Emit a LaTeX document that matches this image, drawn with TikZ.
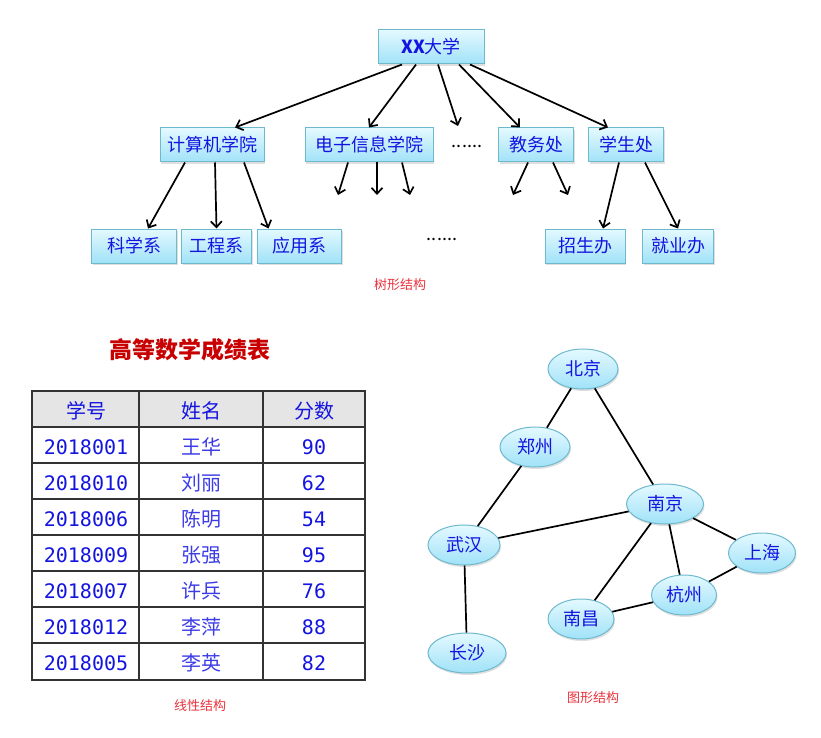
\documentclass[tikz,border=0pt]{standalone}
\usepackage{fontspec}
\setmainfont{Noto Sans CJK SC}
\newfontfamily\monofont{DejaVu Sans Mono}
\usetikzlibrary{arrows.meta,positioning,shapes.geometric,shadows}
\definecolor{boxline}{RGB}{110,185,205}
\definecolor{boxtop}{RGB}{228,249,255}
\definecolor{boxbot}{RGB}{160,226,248}
\definecolor{txtblue}{RGB}{20,20,225}
\definecolor{namblue}{RGB}{60,60,230}
\definecolor{capred}{RGB}{232,50,60}
\definecolor{titlered}{RGB}{200,0,0}
\tikzset{
  tbox/.style={draw=boxline, line width=1pt, top color=boxtop, bottom color=boxbot, minimum height=34pt,
    inner sep=2pt, text=txtblue, font=\fontsize{18}{18}\selectfont,
    drop shadow={opacity=0.25, shadow xshift=1pt, shadow yshift=-2pt}},
  city/.style={ellipse, draw=boxline, line width=1pt, top color=boxtop, bottom color=boxbot, minimum width=70pt,
    minimum height=40pt, inner sep=0pt, text=txtblue, font=\fontsize{18}{18}\selectfont,
    drop shadow={opacity=0.25, shadow xshift=1pt, shadow yshift=-2pt}},
  caption/.style={text=capred, font=\fontsize{13}{13}\selectfont},
  cell/.style={text=txtblue, yshift=-2pt, font=\fontsize{20}{20}\selectfont},
}
\begin{document}
\begin{tikzpicture}[x=1pt, y=-1pt, >={Straight Barb[length=6pt,width=11pt]}, line width=1.7pt]
  \useasboundingbox (0,0) rectangle (821,738);

  % tree
  \node[tbox, minimum width=106pt] (xx) at (431,47) {\textbf{XX}大学};
  \node[tbox, minimum width=104pt] (jsj) at (212,145) {计算机学院};
  \node[tbox, minimum width=128pt] (dz) at (369,145) {电子信息学院};
  \node[font=\fontsize{18}{18}\selectfont] (dots1) at (467,146) {......};
  \node[tbox, minimum width=75pt] (jw) at (536,145) {教务处};
  \node[tbox, minimum width=75pt] (xs) at (626,145) {学生处};
  \node[tbox, minimum width=85pt] (kxx) at (134,246) {科学系};
  \node[tbox, minimum width=70pt, right=4pt of kxx] (gcx) {工程系};
  \node[tbox, minimum width=84pt, right=5pt of gcx] (yyx) {应用系};
  \node[font=\fontsize{18}{18}\selectfont] (dots2) at (442,239) {......};
  \node[tbox, minimum width=80pt] (zsb) at (585,246) {招生办};
  \node[tbox, minimum width=71pt] (jyb) at (678,246) {就业办};
  \coordinate (dotA) at (458,126);
  \coordinate (dzA) at (338,195);
  \coordinate (dzB) at (377,195);
  \coordinate (dzC) at (410,195);
  \coordinate (jwA) at (513,195);
  \coordinate (jwB) at (568,195);

  \draw[->] ([xshift=-29pt]xx.south) -- ([xshift=23pt]jsj.north);
  \draw[->] ([xshift=-15pt]xx.south) -- (dz.north);
  \draw[->] ([xshift=7pt]xx.south) -- (dotA);
  \draw[->] ([xshift=28pt]xx.south) -- ([xshift=-16pt]jw.north);
  \draw[->] ([xshift=39pt]xx.south) -- ([xshift=-18pt]xs.north);
  \draw[->] ([xshift=-27pt]jsj.south) -- ([xshift=14pt]kxx.north);
  \draw[->] ([xshift=3pt]jsj.south) -- (gcx.north);
  \draw[->] ([xshift=32pt]jsj.south) -- ([xshift=-31pt]yyx.north);
  \draw[->] ([xshift=-21pt]dz.south) -- (dzA);
  \draw[->] ([xshift=8pt]dz.south) -- (dzB);
  \draw[->] ([xshift=33pt]dz.south) -- (dzC);
  \draw[->] ([xshift=-8pt]jw.south) -- (jwA);
  \draw[->] ([xshift=17pt]jw.south) -- (jwB);
  \draw[->] ([xshift=-7pt]xs.south) -- ([xshift=18pt]zsb.north);
  \draw[->] ([xshift=19pt]xs.south) -- (jyb.north);
  \node[caption] (cap1) at (400,285) {树形结构};

  % table
  \node[text=titlered, font=\fontsize{23}{23}\selectfont\bfseries] (title) at (190,350) {高等数学成绩表};
  \draw[draw=black!80, line width=1.5pt, fill=black!10] (32,391) rectangle (365,427);
  \draw[draw=black!80, line width=1.5pt] (32,391) rectangle (365,680);
  \foreach \y in {463,499,535,571,607,643}
    \draw[draw=black!80, line width=1.5pt] (32,\y) -- (365,\y);
  \draw[draw=black!80, line width=1.5pt] (139,391) -- (139,680);
  \draw[draw=black!80, line width=1.5pt] (263,391) -- (263,680);
  \node[cell] (h1) at (86,409) {学号};
  \node[cell] (h2) at (201,409) {姓名};
  \node[cell] (h3) at (314,409) {分数};
  \foreach \id/\nm/\sc [count=\i] in {2018001/王华/90, 2018010/刘丽/62, 2018006/陈明/54,
      2018009/张强/95, 2018007/许兵/76, 2018012/李萍/88, 2018005/李英/82} {
    \node[cell, font=\fontsize{20}{20}\monofont] (id\i) at (86,409+36*\i) {\id};
    \node[cell, text=namblue, font=\fontsize{20}{20}\selectfont\addfontfeatures{FakeBold=-0.2}] (nm\i) at (201,409+36*\i) {\nm};
    \node[cell, font=\fontsize{20}{20}\monofont] (sc\i) at (314,409+36*\i) {\sc};
  }
  \node[caption] (cap2) at (200,706) {线性结构};

  % graph
  \node[city] (bj) at (583,369) {北京};
  \node[city] (zz) at (535,447) {郑州};
  \node[city, minimum width=77pt] (nj) at (665,504) {南京};
  \node[city, minimum width=72pt] (wh) at (464,545) {武汉};
  \node[city, minimum width=67pt] (sh) at (762,553) {上海};
  \node[city, minimum width=65pt] (hz) at (684,595) {杭州};
  \node[city, minimum width=66pt] (nc) at (581,619) {南昌};
  \node[city, minimum width=78pt] (cs) at (467,653) {长沙};
  \draw (bj) -- (zz);
  \draw (bj) -- (nj);
  \draw (zz) -- (wh);
  \draw (wh) -- (nj);
  \draw (wh) -- (cs);
  \draw (nj) -- (nc);
  \draw (nj) -- (hz);
  \draw (nj) -- (sh);
  \draw (sh) -- (hz);
  \draw (nc) -- (hz);
  \node[caption] (cap3) at (593,698) {图形结构};
\end{tikzpicture}
\end{document}
